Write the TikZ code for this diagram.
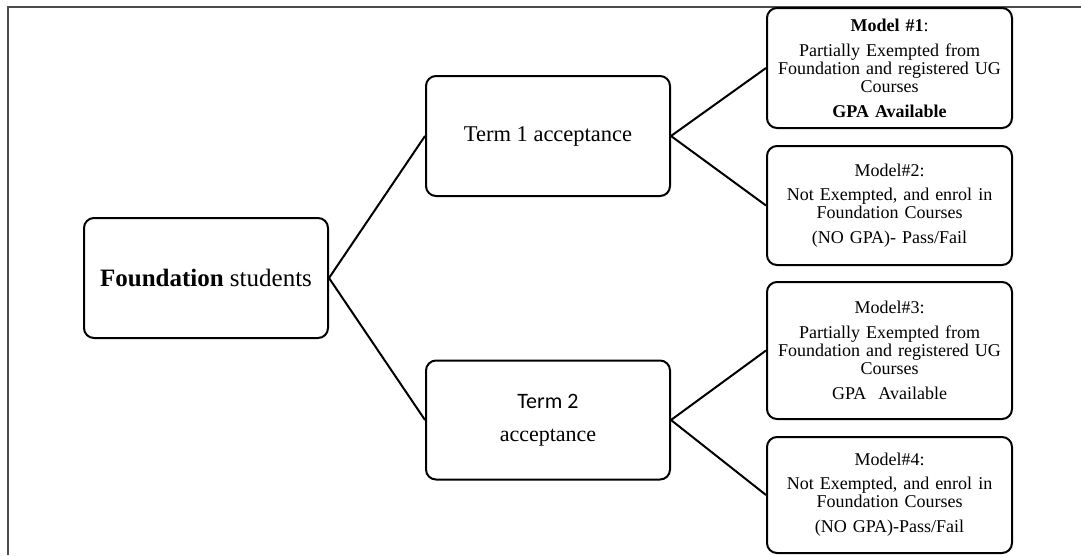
\documentclass[tikz,border=0pt]{standalone}
\usepackage{fontspec}
\setmainfont{Liberation Serif}
\newfontfamily\calibrilike{Carlito}
\begin{document}
\begin{tikzpicture}[x=1pt,y=-1pt,
  box/.style={draw, line width=2pt, rounded corners=10pt, align=center, inner sep=0pt},
  mainbox/.style={box, minimum width=244pt, minimum height=120pt},
  modelbox/.style={box, minimum width=245pt, text width=240pt,
    font=\fontsize{18}{18}\selectfont},
  link/.style={line width=2pt},
  frameline/.style={line width=1.5pt, draw=black!70}]
\useasboundingbox (0,0) rectangle (1081,555);

% partial page frame
\draw[frameline] (1081,7) -- (8,7) -- (8,555);

% root and term boxes
\node[mainbox, font=\fontsize{25}{25}\selectfont] (found) at (206,278)
  {\textbf{Foundation} students};
\node[mainbox, font=\fontsize{22.5}{22.5}\selectfont] (t1) at (548,136)
  {Term 1 acceptance};
\node[mainbox, minimum height=119pt, font=\fontsize{22}{22}\selectfont] (t2) at (548,420)
  {{\calibrilike Term 2}\\[11pt]acceptance};

% model boxes
\node[modelbox, minimum height=120pt] (m1) at (889.5,68)
  {\textbf{Model \#1}:\\[7pt]Partially Exempted from\\Foundation and registered UG\\Courses\\[7pt]\textbf{GPA Available}};
\node[modelbox, minimum height=119pt] (m2) at (889.5,205.5)
  {Model\#2:\\[6pt]Not Exempted, and enrol in\\Foundation Courses\\[7pt](NO GPA)- Pass/Fail};
\node[modelbox, minimum height=137pt] (m3) at (889.5,350.5)
  {Model\#3:\\[7pt]Partially Exempted from\\Foundation and registered UG\\Courses\\[7pt]GPA\ \ Available};
\node[modelbox, minimum height=116pt] (m4) at (889.5,495)
  {Model\#4:\\[6pt]Not Exempted, and enrol in\\Foundation Courses\\[7pt](NO GPA)-Pass/Fail};

% connectors
\draw[link] (found.east) -- (t1.west);
\draw[link] (found.east) -- (t2.west);
\draw[link] (t1.east) -- (m1.west);
\draw[link] (t1.east) -- (m2.west);
\draw[link] (t2.east) -- (m3.west);
\draw[link] (t2.east) -- (m4.west);
\end{tikzpicture}
\end{document}
